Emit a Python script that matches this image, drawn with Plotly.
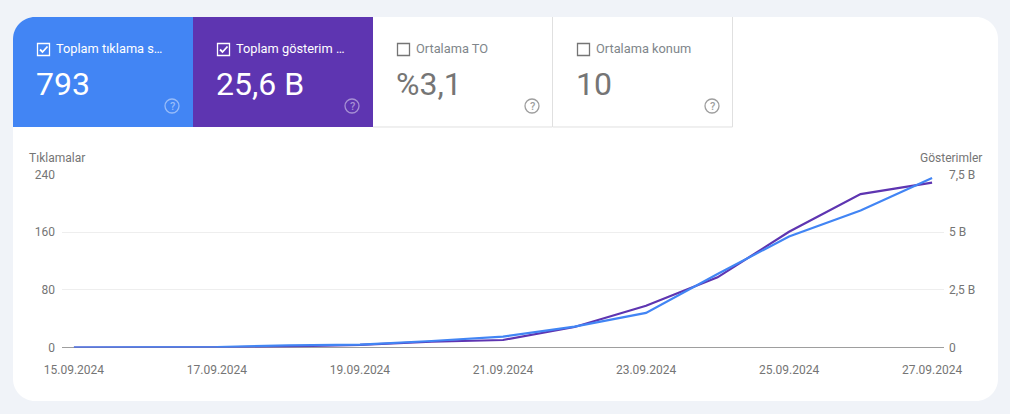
import plotly.graph_objects as go

dates = ["2024-09-%02d" % d for d in range(15, 28)]
clicks = [0, 0, 0.5, 3, 4, 9, 15, 29, 48, 102, 154, 190, 235]
impressions = [0, 0.005, 0.01, 0.05, 0.11, 0.25, 0.325, 0.89, 1.81, 3.04, 5.02, 6.65, 7.15]

x_tickvals = ["2024-09-15", "2024-09-17", "2024-09-19", "2024-09-21", "2024-09-23", "2024-09-25", "2024-09-27"]
x_ticktext = ["15.09.2024", "17.09.2024", "19.09.2024", "21.09.2024", "23.09.2024", "25.09.2024", "27.09.2024"]
left_ticks = [0, 80, 160, 240]
right_ticks = [0, 2.5, 5, 7.5]
right_text = ["0", "2,5 B", "5 B", "7,5 B"]

cards = [
    ("Toplam tıklama s…", "793", True, "#4285f4"),
    ("Toplam gösterim …", "25,6 B", True, "#5e35b1"),
    ("Ortalama TO", "%3,1", False, None),
    ("Ortalama konum", "10", False, None),
]

W, H = 1010, 414
BLUE, PURPLE = "#4285f4", "#5e35b1"
GREY = "#757575"
FONT = "Roboto"


def px(x):
    return x / W


def py(y):
    return 1 - y / H


def pth(*pts):
    return " ".join(("M" if i == 0 else "L") + f"{px(a):.5f},{py(b):.5f}" for i, (a, b) in enumerate(pts))


shapes, annos = [], []


def rect(x0, y0, x1, y1, fill=None, line=None, lw=1.3, layer="below"):
    shapes.append(dict(type="rect", xref="paper", yref="paper", x0=px(x0), x1=px(x1), y0=py(y1), y1=py(y0),
                       fillcolor=fill or "rgba(0,0,0,0)", line=dict(color=line or "rgba(0,0,0,0)", width=lw if line else 0),
                       layer=layer))


def text(x, y, s, size, color, anchor="left", weight=None):
    f = dict(family=FONT, size=size, color=color)
    if weight:
        f["weight"] = weight
    annos.append(dict(xref="paper", yref="paper", x=px(x), y=py(y), text=s, showarrow=False, xanchor=anchor,
                      yanchor="middle", font=f, borderpad=0, xshift=0))


def rounded(x0, y0, x1, y1, r, fill):
    k = 0.45 * r
    d = (f"M{px(x0 + r)},{py(y0)} L{px(x1 - r)},{py(y0)} "
         f"C{px(x1 - k)},{py(y0)} {px(x1)},{py(y0 + k)} {px(x1)},{py(y0 + r)} "
         f"L{px(x1)},{py(y1 - r)} C{px(x1)},{py(y1 - k)} {px(x1 - k)},{py(y1)} {px(x1 - r)},{py(y1)} "
         f"L{px(x0 + r)},{py(y1)} C{px(x0 + k)},{py(y1)} {px(x0)},{py(y1 - k)} {px(x0)},{py(y1 - r)} "
         f"L{px(x0)},{py(y0 + r)} C{px(x0)},{py(y0 + k)} {px(x0 + k)},{py(y0)} {px(x0 + r)},{py(y0)} Z")
    shapes.append(dict(type="path", xref="paper", yref="paper", path=d, fillcolor=fill, line=dict(width=0), layer="below"))


rounded(13, 17, 998, 401, 22, "#ffffff")

for i, (label, value, checked, color) in enumerate(cards):
    x0 = 13 + 180 * i
    x1 = x0 + 180
    if color:
        if i == 0:
            r, k = 22, 10
            d = (f"M{px(x0 + r)},{py(17)} L{px(x1)},{py(17)} L{px(x1)},{py(127)} L{px(x0)},{py(127)} "
                 f"L{px(x0)},{py(17 + r)} C{px(x0)},{py(17 + k)} {px(x0 + k)},{py(17)} {px(x0 + r)},{py(17)} Z")
            shapes.append(dict(type="path", xref="paper", yref="paper", path=d, fillcolor=color, line=dict(width=0), layer="below"))
        else:
            rect(x0, 17, x1, 127, fill=color)
    else:
        shapes.append(dict(type="path", xref="paper", yref="paper", layer="below", line=dict(color="#e0e0e0", width=1),
                           path=pth((x0, 127), (x1 - 0.5, 127), (x1 - 0.5, 17))))
    fg = "#ffffff" if color else GREY
    rect(x0 + 24.5, 43.5, x0 + 36.5, 55.5, line=fg, lw=1.3)
    if checked:
        shapes.append(dict(type="path", xref="paper", yref="paper", layer="below", line=dict(color=fg, width=1.8),
                           path=pth((x0 + 27, 49.5), (x0 + 29.5, 52), (x0 + 34.5, 46.5))))
    text(x0 + 42.4, 48.7, label, 12.8, "#ffffff" if color else "#80868b")
    text(x0 + 22.3, 83.5, value, 32, fg)
    icon = "rgba(255,255,255,0.45)" if color else "#9e9e9e"
    shapes.append(dict(type="circle", xref="paper", yref="paper", layer="below", x0=px(x0 + 152), x1=px(x0 + 166),
                       y0=py(113), y1=py(99), line=dict(color=icon, width=1.3), fillcolor="rgba(0,0,0,0)"))
    text(x0 + 159, 106, "?", 11, icon, anchor="center", weight=500)

text(27.8, 157.5, "Tıklamalar", 12, GREY)
text(982.5, 157.5, "Gösterimler", 12, GREY, anchor="right")

fig = go.Figure()
fig.add_trace(go.Scatter(x=dates, y=impressions, yaxis="y", mode="lines", line=dict(color=PURPLE, width=2.2),
                         cliponaxis=False, hoverinfo="skip", showlegend=False))
fig.add_trace(go.Scatter(x=dates, y=clicks, yaxis="y2", mode="lines", line=dict(color=BLUE, width=2.2),
                         cliponaxis=False, hoverinfo="skip", showlegend=False))

tf = dict(family=FONT, size=12, color=GREY)
fig.update_layout(
    width=W, height=H, autosize=False,
    margin=dict(l=0, r=0, t=0, b=0, autoexpand=False),
    paper_bgcolor="#f0f3f8", plot_bgcolor="rgba(0,0,0,0)",
    font=tf, shapes=shapes, annotations=annos, showlegend=False,
    xaxis=dict(type="date", domain=[px(62), px(944)], range=["2024-09-14 20:00", "2024-09-27 04:00"],
               tickmode="array", tickvals=x_tickvals, ticktext=x_ticktext, tickfont=tf, showgrid=False,
               zeroline=False, showline=False, ticks="", tickangle=0, ticklabelstandoff=13),
    yaxis=dict(domain=[py(347.5), py(174.5)], range=[0, 7.5], side="right", anchor="x", tickmode="array",
               tickvals=right_ticks, ticktext=right_text, tickfont=tf, showgrid=True, gridcolor="#eeeeee", gridwidth=1,
               zeroline=True, zerolinecolor="#9e9e9e", zerolinewidth=1, showline=False, ticks="", ticklabelstandoff=4),
    yaxis2=dict(domain=[py(347.5), py(174.5)], range=[0, 240], side="left", anchor="x", overlaying="y", tickmode="array",
                tickvals=left_ticks, ticktext=[str(v) for v in left_ticks], tickfont=tf, showgrid=False,
                zeroline=False, showline=False, ticks="", ticklabelstandoff=6),
)

fig.write_html("out.html", config=dict(displayModeBar=False),
               post_script="document.body.style.margin='0';document.body.style.background='#f0f3f8';")
